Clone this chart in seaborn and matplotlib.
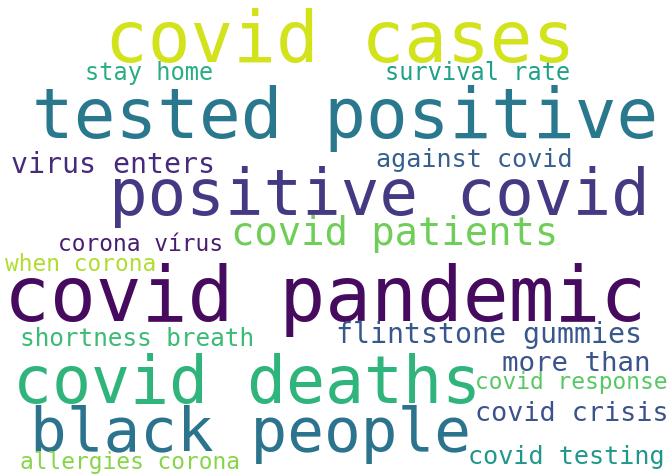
import matplotlib
matplotlib.use('Agg')
import matplotlib.pyplot as plt
import seaborn as sns

# 단어와 상대 빈도 (가장 큰 단어 = 1.0)
words = ['covid pandemic', 'covid cases', 'tested positive', 'positive covid',
         'covid deaths', 'black people', 'covid patients', 'flintstone gummies',
         'virus enters', 'more than', 'covid crisis', 'against covid',
         'covid testing', 'shortness breath', 'stay home', 'survival rate',
         'corona vírus', 'when corona', 'allergies corona', 'covid response']
freq = [1.00, 0.93, 0.91, 0.84,
        0.85, 0.80, 0.51, 0.37,
        0.37, 0.36, 0.35, 0.33,
        0.33, 0.32, 0.31, 0.31,
        0.30, 0.30, 0.30, 0.30]

# 배치 (픽셀 좌표, 왼쪽/베이스라인) 과 viridis 색 위치
pos_x = [4, 105, 32, 109, 13, 30, 231, 336,
         11, 502, 475, 376, 468, 20, 85, 385,
         58, 5, 20, 475]
pos_y = [321, 62, 138, 215, 403, 451, 245, 343,
         173, 371, 421, 167, 464, 346, 80, 80,
         251, 271, 469, 389]
shade = [0.03, 0.93, 0.40, 0.17, 0.65, 0.38, 0.78, 0.27,
         0.12, 0.26, 0.25, 0.30, 0.53, 0.68, 0.63, 0.57,
         0.08, 0.88, 0.82, 0.74]

sns.set_style('white')
plt.rcParams['font.family'] = ['DejaVu Sans Mono', 'DejaVu Sans']
cmap = sns.color_palette('viridis', as_cmap=True)

fig = plt.figure(figsize=(6.7, 4.76), dpi=100)
ax = fig.add_axes([0, 0, 1, 1])
ax.set_xlim(0, 670)
ax.set_ylim(476, 0)
ax.axis('off')

max_px = 76.3
for w, f, x, y, s in zip(words, freq, pos_x, pos_y, shade):
    ax.text(x, y, w, fontsize=f * max_px * 0.72, color=cmap(s),
            ha='left', va='baseline')

plt.savefig('out.png', dpi=100, facecolor='white')
